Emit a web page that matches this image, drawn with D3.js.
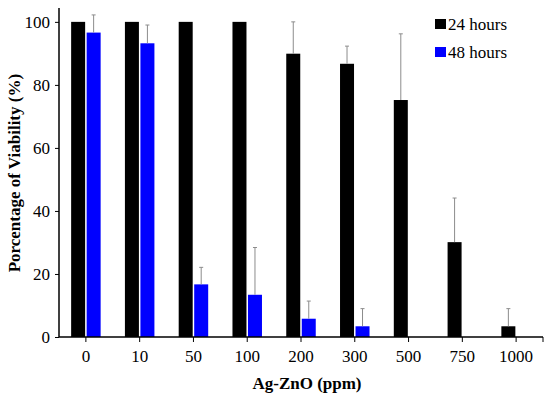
<!DOCTYPE html>
<html>
<head>
<meta charset="utf-8">
<script src="https://cdn.jsdelivr.net/npm/d3@7"></script>
</head>
<body style="margin:0">
<svg id="chart" width="550" height="398" font-family="Times New Roman"></svg>
<script>
// data
var doses = ['0', '10', '50', '100', '200', '300', '500', '750', '1000'];
var series = ['24 hours', '48 hours'];
var colors = ['#000000', '#0000ff'];
var viab24 = [100, 100, 100, 100, 89.9, 86.7, 75.2, 30.1, 3.4];
var err24 = [0, 0, 0, 0, 10.1, 5.6, 21, 14, 5.6];
var viab48 = [96.6, 93.2, 16.7, 13.4, 5.8, 3.4, 0, 0, 0];
var err48 = [5.6, 5.8, 5.4, 15, 5.6, 5.6, 0, 0, 0];
var yTicks = [0, 20, 40, 60, 80, 100];

var W = 550, H = 398;
var margin = {left: 59, right: 7, top: 8, bottom: 61};

var svg = d3.select('#chart');

var x = d3.scaleBand().domain(doses)
  .range([margin.left, W - margin.right]);
var y = d3.scaleLinear().domain([0, 104.4]).range([H - margin.bottom, margin.top]);

var barW = 14, gap = 1.5;
var rows = [];
doses.forEach(function(d, i) {
  rows.push({dose: d, s: 0, v: viab24[i], e: err24[i]});
  rows.push({dose: d, s: 1, v: viab48[i], e: err48[i]});
});
function bx(r) {
  var c = x(r.dose) + x.bandwidth() / 2;
  return r.s === 0 ? c - barW - gap / 2 : c + gap / 2;
}

// bars
svg.append('g').selectAll('rect').data(rows.filter(function(r){ return r.v > 0; }))
  .enter().append('rect')
  .attr('x', bx)
  .attr('y', function(r){ return y(r.v); })
  .attr('width', barW)
  .attr('height', function(r){ return y(0) - y(r.v); })
  .attr('fill', function(r){ return colors[r.s]; });

// error bars, upper side only
var eb = svg.append('g').attr('stroke', '#8c8c8c').attr('stroke-width', 1);
rows.filter(function(r){ return r.e > 0; }).forEach(function(r) {
  var cx = bx(r) + barW / 2;
  eb.append('line').attr('x1', cx).attr('x2', cx)
    .attr('y1', y(r.v)).attr('y2', y(r.v + r.e));
  eb.append('line').attr('x1', cx - 2).attr('x2', cx + 2)
    .attr('y1', y(r.v + r.e)).attr('y2', y(r.v + r.e));
});

// y axis
var yAxis = svg.append('g').attr('transform', 'translate(' + margin.left + ',0)')
  .call(d3.axisLeft(y).tickValues(yTicks).tickSize(4).tickPadding(5))
  .attr('font-family', null).attr('font-size', 17);
yAxis.select('.domain').attr('stroke-width', 1.5)
  .attr('d', 'M0,' + y(0) + 'V' + margin.top);
yAxis.selectAll('text').attr('fill', '#000');

// x axis
var xAxis = svg.append('g').attr('transform', 'translate(0,' + y(0) + ')')
  .call(d3.axisBottom(x).tickSize(5).tickPadding(8))
  .attr('font-family', null).attr('font-size', 17);
xAxis.select('.domain').attr('stroke-width', 1.5)
  .attr('d', 'M' + margin.left + ',0H' + (W - margin.right));
xAxis.append('line').attr('x1', W - margin.right).attr('x2', W - margin.right)
  .attr('y1', 0).attr('y2', 5).attr('stroke', '#000');
xAxis.selectAll('text').attr('fill', '#000');

// axis titles
svg.append('text').attr('x', 307).attr('y', 389)
  .attr('text-anchor', 'middle').attr('font-size', 17).attr('font-weight', 'bold')
  .text('Ag-ZnO (ppm)');
svg.append('text')
  .attr('transform', 'translate(20,' + y(52) + ') rotate(-90)')
  .attr('text-anchor', 'middle').attr('font-size', 17).attr('font-weight', 'bold')
  .text('Porcentage of Viability (%)');

// legend
var lg = svg.append('g').attr('transform', 'translate(435,19)');
series.forEach(function(s, i) {
  lg.append('rect').attr('x', 0).attr('y', i * 28).attr('width', 11).attr('height', 10)
    .attr('fill', colors[i]);
  lg.append('text').attr('x', 13).attr('y', i * 28 + 10.5)
    .attr('font-size', 17).attr('fill', '#000').text(s);
});
</script>
</body>
</html>
